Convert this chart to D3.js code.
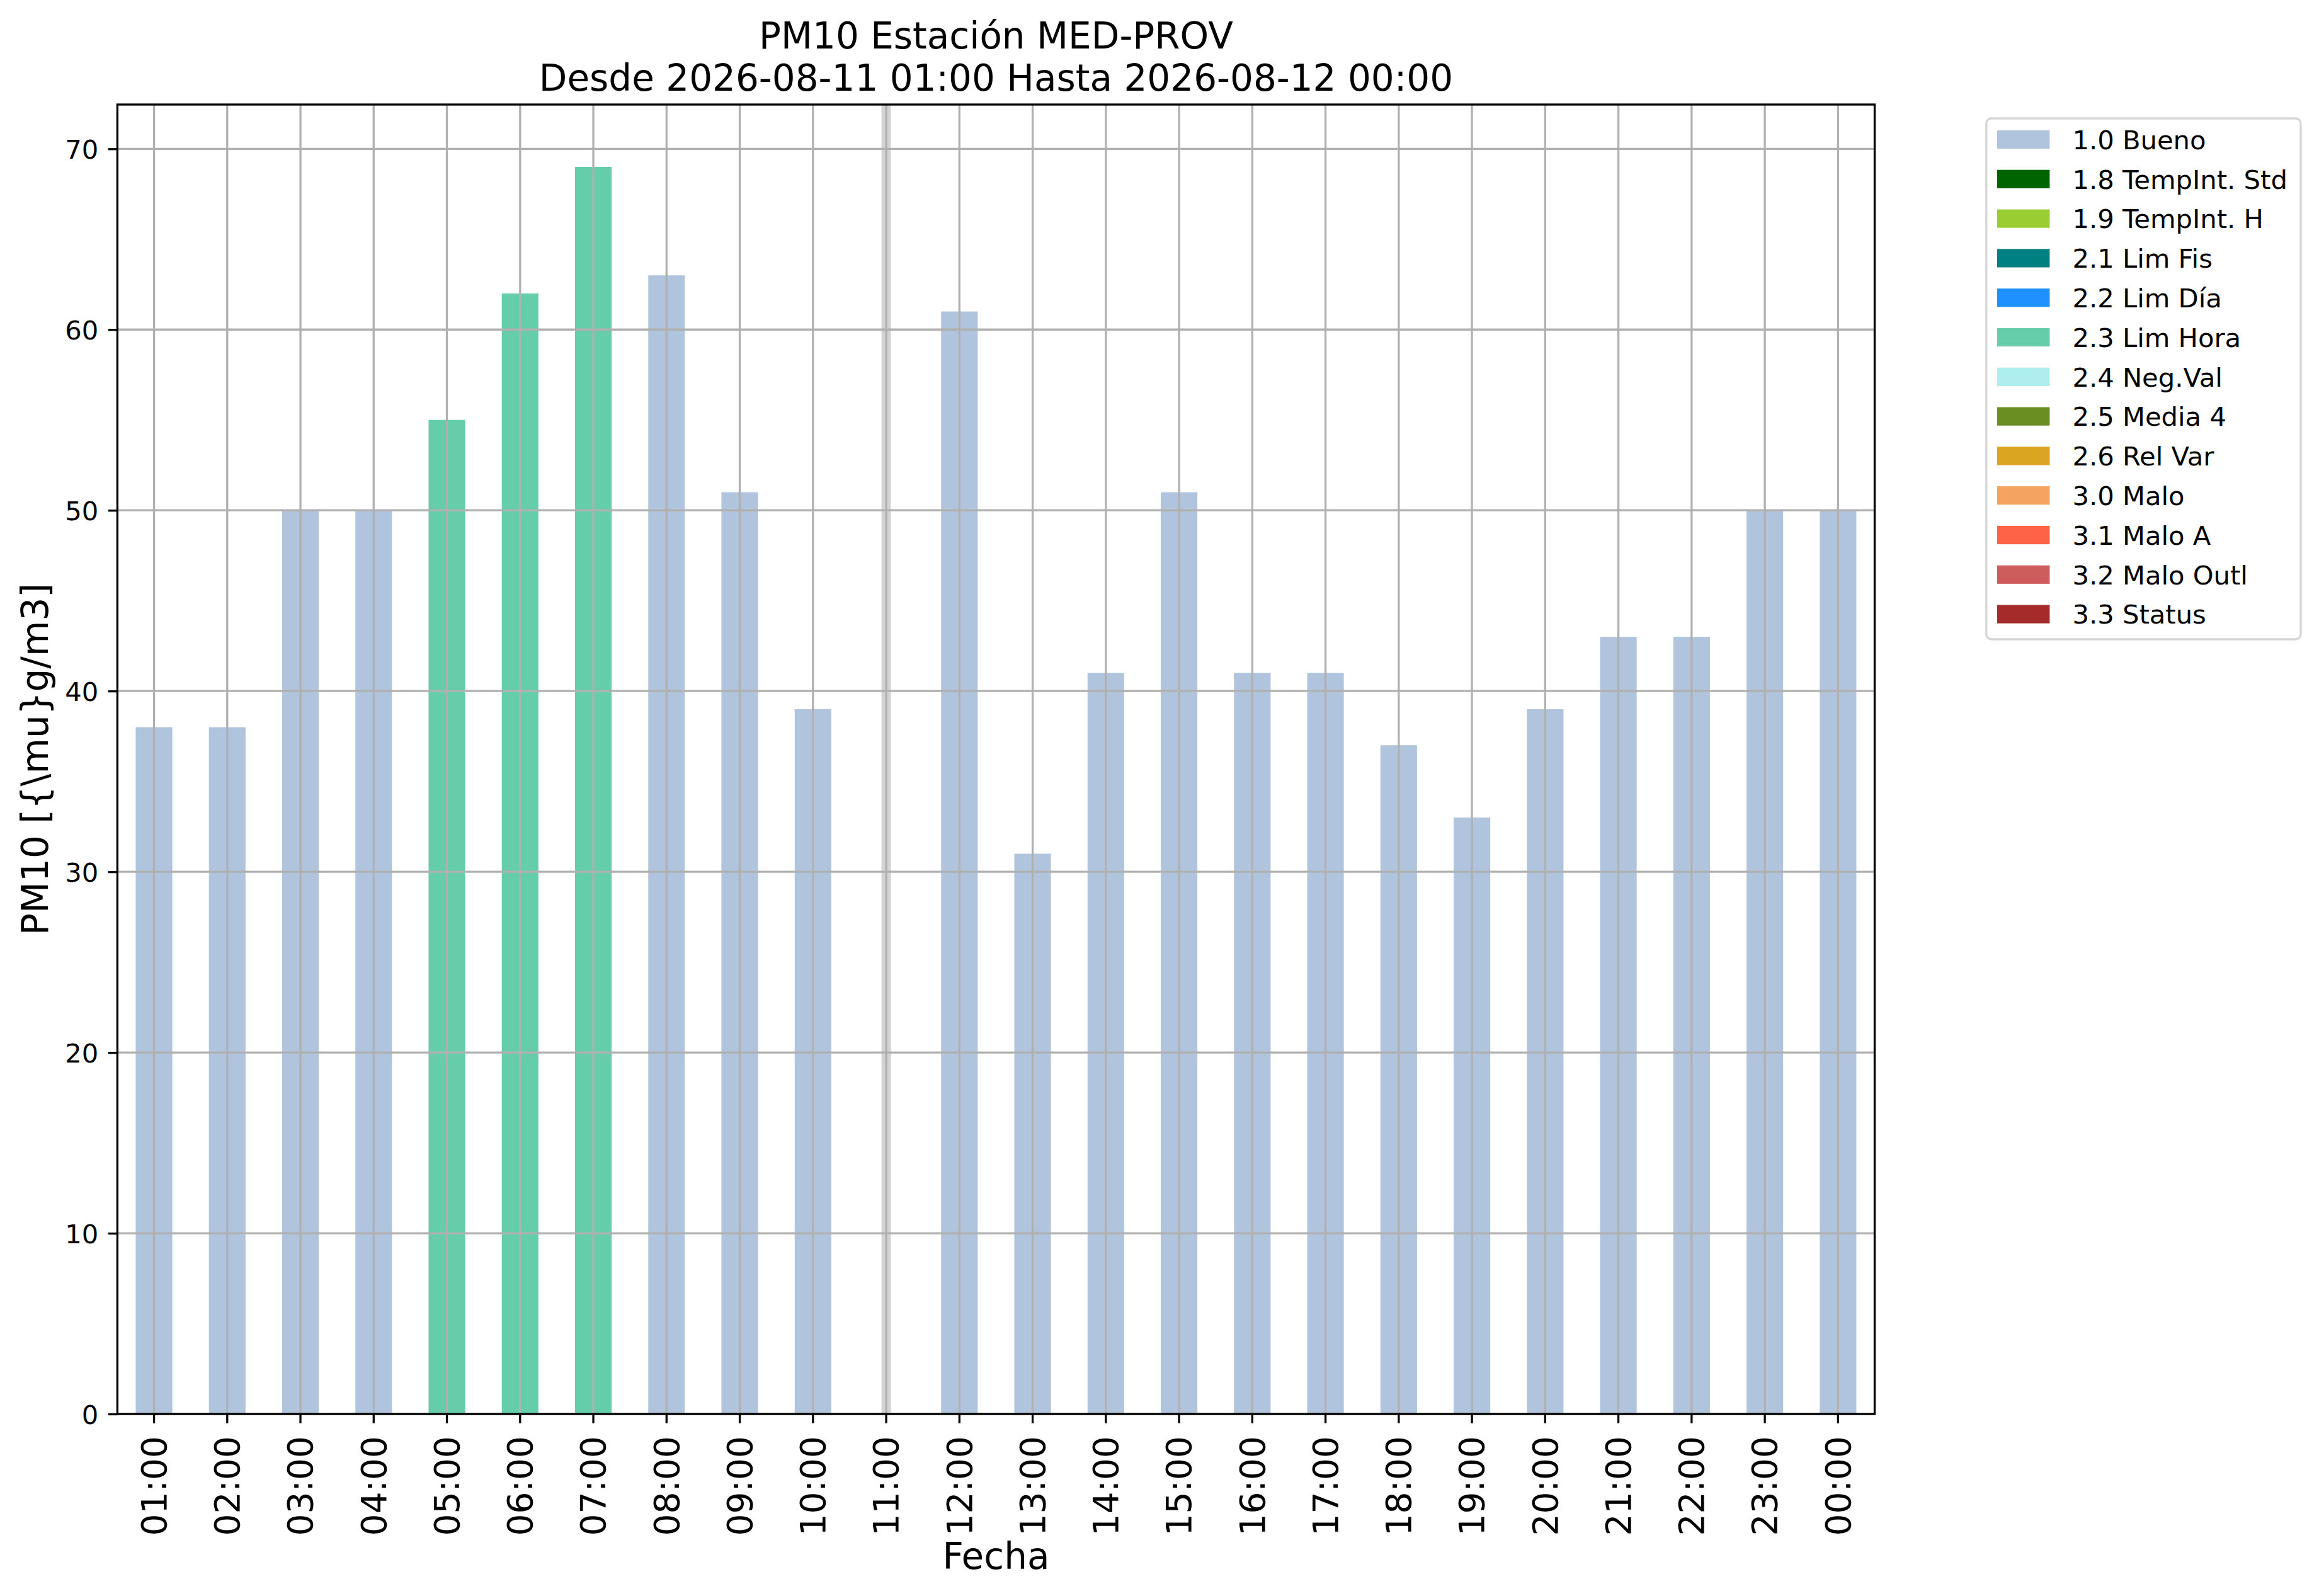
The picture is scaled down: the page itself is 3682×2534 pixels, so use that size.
<!DOCTYPE html>
<html>
<head>
<meta charset="utf-8">
<script src="https://cdn.jsdelivr.net/npm/d3@7"></script>
<style>
  html, body { margin: 0; padding: 0; background: #ffffff; }
  svg { display: block; }
  text { font-family: "DejaVu Sans", sans-serif; fill: #000; }
</style>
</head>
<body>
<script>
// ---------------- data ----------------
const titleLines = ["PM10 Estación MED-PROV", "Desde 2026-08-11 01:00 Hasta 2026-08-12 00:00"];
const xLabel = "Fecha";
const yLabel = "PM10 [{\\mu}g/m3]";

const hours = ["01:00","02:00","03:00","04:00","05:00","06:00","07:00","08:00","09:00","10:00",
               "11:00","12:00","13:00","14:00","15:00","16:00","17:00","18:00","19:00","20:00",
               "21:00","22:00","23:00","00:00"];
const values = [38, 38, 50, 50, 55, 62, 69, 63, 51, 39,
                null, 61, 31, 41, 51, 41, 41, 37, 33, 39,
                43, 43, 50, 50];
const flags = ["1.0","1.0","1.0","1.0","2.3","2.3","2.3","1.0","1.0","1.0",
               null,"1.0","1.0","1.0","1.0","1.0","1.0","1.0","1.0","1.0",
               "1.0","1.0","1.0","1.0"];

const legendCodes  = ["1.0","1.8","1.9","2.1","2.2","2.3","2.4","2.5","2.6","3.0","3.1","3.2","3.3"];
const legendNames  = ["Bueno","TempInt. Std","TempInt. H","Lim Fis","Lim Día","Lim Hora","Neg.Val",
                      "Media 4","Rel Var","Malo","Malo A","Malo Outl","Status"];
const legendColors = ["#b0c4de","#006400","#9acd32","#008080","#1e90ff","#66cdaa","#afeeee",
                      "#6b8e23","#daa520","#f4a460","#ff6347","#cd5c5c","#a52a2a"];

const yTicks = [0, 10, 20, 30, 40, 50, 60, 70];
const yMax = 72.45;

// ---------------- layout ----------------
const W = 3682, H = 2534;
const L = 186.4, R = 2976.5, T = 166, B = 2245;
const fsBig = 58, fsTick = 55, fsSmall = 41.7;

const colorOf = d3.scaleOrdinal().domain(legendCodes).range(legendColors);

const svg = d3.select("body").append("svg")
  .attr("width", W).attr("height", H)
  .attr("viewBox", `0 0 ${W} ${H}`);

svg.append("rect").attr("width", W).attr("height", H).attr("fill", "#fff");

const x = d3.scaleBand().domain(hours).range([L, R]).paddingInner(0.5).paddingOuter(0.25);
const y = d3.scaleLinear().domain([0, yMax]).range([B, T]);

const rows = hours.map((h, i) => ({h, v: values[i], f: flags[i]}));

// missing-value band
svg.append("g").selectAll("rect")
  .data(rows.filter(d => d.v === null))
  .join("rect")
  .attr("x", d => x(d.h) + x.bandwidth() / 2 - 7.5)
  .attr("width", 15)
  .attr("y", T).attr("height", B - T)
  .attr("fill", "#d3d3d3");

// bars
svg.append("g").selectAll("rect")
  .data(rows.filter(d => d.v !== null))
  .join("rect")
  .attr("x", d => x(d.h))
  .attr("width", x.bandwidth())
  .attr("y", d => y(d.v))
  .attr("height", d => B - y(d.v))
  .attr("fill", d => colorOf(d.f));

// grid
const grid = svg.append("g").attr("stroke", "#b0b0b0").attr("stroke-width", 3.3);
grid.selectAll("line.gx").data(hours).join("line")
  .attr("x1", d => x(d) + x.bandwidth() / 2).attr("x2", d => x(d) + x.bandwidth() / 2)
  .attr("y1", T).attr("y2", B);
grid.selectAll("line.gy").data(yTicks).join("line")
  .attr("x1", L).attr("x2", R)
  .attr("y1", d => y(d)).attr("y2", d => y(d));

// axes via d3
const xAxis = d3.axisBottom(x).tickSize(14.6).tickPadding(0);
const gx = svg.append("g").attr("transform", `translate(0,${B})`).call(xAxis);
gx.select(".domain").remove();
gx.selectAll(".tick line").attr("stroke", "#000").attr("stroke-width", 3.3);
gx.selectAll(".tick text")
  .attr("font-family", "DejaVu Sans").attr("font-size", fsTick)
  .attr("text-anchor", "end")
  .attr("transform", "translate(0,35) rotate(-90)")
  .attr("x", 0).attr("y", 0)
  .attr("dy", "0.35em")
  .attr("fill", "#000");

const yAxis = d3.axisLeft(y).tickValues(yTicks).tickSize(14.6).tickPadding(15.5).tickFormat(d3.format("d"));
const gy = svg.append("g").attr("transform", `translate(${L},0)`).call(yAxis);
gy.select(".domain").remove();
gy.selectAll(".tick line").attr("stroke", "#000").attr("stroke-width", 3.3);
gy.selectAll(".tick text")
  .attr("font-family", "DejaVu Sans").attr("font-size", fsSmall)
  .attr("dy", "0.3645em").attr("fill", "#000");

// spines
svg.append("rect")
  .attr("x", L).attr("y", T).attr("width", R - L).attr("height", B - T)
  .attr("fill", "none").attr("stroke", "#000").attr("stroke-width", 3.3);

// title
const cx = (L + R) / 2;
svg.append("g").selectAll("text").data(titleLines).join("text")
  .attr("x", cx).attr("y", (d, i) => 77 + i * 67)
  .attr("text-anchor", "middle").attr("font-size", fsBig)
  .text(d => d);

// axis labels
svg.append("text").attr("x", cx).attr("y", 2490.8)
  .attr("text-anchor", "middle").attr("font-size", fsBig).text(xLabel);
svg.append("text")
  .attr("transform", `translate(75.5,${(T + B) / 2}) rotate(-90)`)
  .attr("text-anchor", "middle").attr("font-size", fsBig).text(yLabel);

// legend
const lg = svg.append("g");
lg.append("rect")
  .attr("x", 3153.8).attr("y", 188).attr("width", 3653 - 3153.8).attr("height", 1015 - 188)
  .attr("rx", 8).attr("ry", 8)
  .attr("fill", "#fff").attr("fill-opacity", 0.8)
  .attr("stroke", "#d6d6d6").attr("stroke-width", 3.3);
const items = legendCodes.map((c, i) => ({c, name: c + " " + legendNames[i], color: legendColors[i]}));
const rowY = d3.scalePoint().domain(legendCodes).range([221.5, 221.5 + 12 * 62.8]);
const li = lg.selectAll("g.item").data(items).join("g")
  .attr("transform", d => `translate(0,${rowY(d.c)})`);
li.append("rect").attr("x", 3171).attr("y", -14.6).attr("width", 83.4).attr("height", 29.2)
  .attr("fill", d => d.color);
li.append("text").attr("x", 3290.4).attr("y", 0).attr("dy", "0.3645em")
  .attr("font-size", fsSmall).text(d => d.name);
</script>
</body>
</html>
